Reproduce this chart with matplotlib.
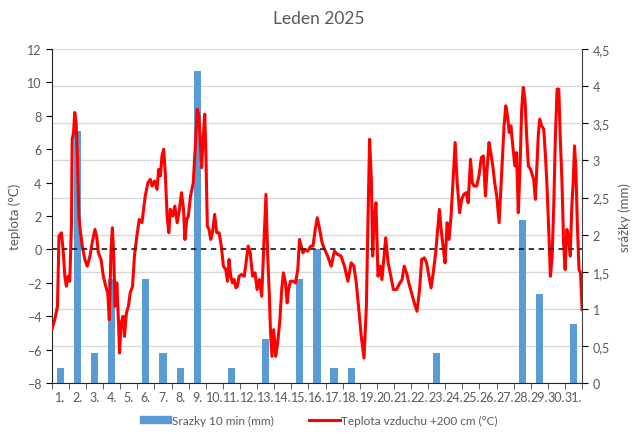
import matplotlib
matplotlib.use("Agg")
import matplotlib.pyplot as plt
from matplotlib.patches import Patch
from matplotlib.lines import Line2D

plt.rcParams['font.family'] = ['Lato', 'DejaVu Sans']

# daily precipitation (mm), days 1..31
days = list(range(1, 32))
rain = [0.2, 3.4, 0.4, 1.4, 0.0, 1.4, 0.4, 0.2, 4.2, 0.0,
        0.2, 0.0, 0.6, 0.0, 1.4, 1.8, 0.2, 0.2, 0.0, 0.0,
        0.0, 0.0, 0.4, 0.0, 0.0, 0.0, 0.0, 2.2, 1.2, 0.0, 0.8]

# air temperature 200 cm, time in days since 1 Jan 00:00
temp_t = [0.00, 0.17, 0.33, 0.42, 0.56, 0.66, 0.76, 0.85, 0.95, 1.05,
          1.15, 1.19, 1.27, 1.34, 1.42, 1.50, 1.58, 1.68, 1.78, 1.93,
          2.07, 2.23, 2.36, 2.52, 2.62, 2.72, 2.88, 3.01, 3.15, 3.27,
          3.36, 3.46, 3.54, 3.62, 3.70, 3.80, 3.90, 3.96, 4.05, 4.17,
          4.25, 4.36, 4.48, 4.58, 4.72, 4.83, 4.97, 5.11, 5.27, 5.46,
          5.62, 5.76, 5.86, 6.01, 6.15, 6.25, 6.35, 6.44, 6.54, 6.64,
          6.74, 6.84, 6.93, 7.07, 7.19, 7.33, 7.46, 7.58, 7.70, 7.78,
          7.89, 7.98, 8.11, 8.27, 8.40, 8.50, 8.60, 8.70, 8.76, 8.84,
          8.94, 9.01, 9.09, 9.19, 9.29, 9.39, 9.52, 9.64, 9.78, 9.91,
          10.03, 10.17, 10.27, 10.36, 10.46, 10.56, 10.66, 10.76, 10.85, 10.95,
          11.09, 11.25, 11.35, 11.48, 11.60, 11.74, 11.88, 12.00, 12.13, 12.27,
          12.37, 12.42, 12.52, 12.62, 12.72, 12.78, 12.87, 12.97, 13.09, 13.20,
          13.32, 13.44, 13.54, 13.66, 13.76, 13.84, 13.95, 14.09, 14.25, 14.38,
          14.48, 14.58, 14.68, 14.82, 14.97, 15.13, 15.27, 15.40, 15.52, 15.66,
          15.80, 15.95, 16.13, 16.33, 16.52, 16.72, 16.91, 17.11, 17.31, 17.50,
          17.66, 17.80, 17.93, 18.09, 18.25, 18.39, 18.48, 18.58, 18.68, 18.76,
          18.84, 18.95, 19.07, 19.19, 19.30, 19.42, 19.52, 19.66, 19.82, 19.97,
          20.15, 20.35, 20.48, 20.60, 20.74, 20.87, 21.03, 21.19, 21.35, 21.50,
          21.62, 21.78, 21.91, 22.05, 22.17, 22.30, 22.44, 22.56, 22.66, 22.76,
          22.87, 22.99, 23.11, 23.22, 23.34, 23.46, 23.58, 23.70, 23.84, 23.96,
          24.09, 24.23, 24.34, 24.48, 24.58, 24.68, 24.84, 24.97, 25.11, 25.23,
          25.35, 25.46, 25.56, 25.66, 25.78, 25.89, 26.01, 26.15, 26.25, 26.35,
          26.44, 26.54, 26.64, 26.74, 26.84, 26.95, 27.07, 27.17, 27.27, 27.37,
          27.47, 27.56, 27.66, 27.76, 27.86, 27.99, 28.17, 28.27, 28.35, 28.44,
          28.52, 28.64, 28.76, 28.86, 28.95, 29.05, 29.15, 29.25, 29.35, 29.44,
          29.54, 29.64, 29.72, 29.82, 29.92, 30.01, 30.11, 30.21, 30.31, 30.40,
          30.48, 30.56, 30.64, 30.72, 30.82, 30.91, 31.00]
temp = [-4.8, -4.2, -3.4, 0.8, 1.0, 0.0, -1.6, -2.2, -1.6, -1.9,
        1.6, 6.6, 7.0, 8.2, 7.6, 5.4, 2.0, 1.0, 0.2, -0.6,
        -1.0, -0.4, 0.4, 1.2, 0.8, -0.2, -0.6, -1.6, -2.2, -2.6,
        -4.2, 0.0, 1.3, -0.4, -3.4, -2.0, -4.4, -6.2, -4.4, -4.0,
        -5.2, -3.8, -3.4, -2.6, -2.2, -0.4, 0.8, 1.8, 1.6, 3.2,
        4.0, 4.2, 3.8, 4.1, 3.6, 4.8, 4.4, 5.6, 6.0, 4.4,
        2.0, 1.0, 2.4, 2.0, 2.6, 1.6, 2.4, 3.4, 2.4, 0.6,
        1.8, 2.0, 3.2, 4.0, 6.4, 8.4, 8.0, 6.0, 4.9, 6.6,
        8.1, 5.6, 1.4, 1.2, 0.6, 1.0, 2.1, 1.0, 1.0, 0.2,
        -1.0, -1.2, -1.9, -0.6, -1.6, -2.0, -1.8, -2.3, -2.2, -1.6,
        -1.5, -1.6, -0.8, 0.2, -0.2, -1.6, -1.4, -2.4, -1.8, -2.8,
        -0.4, 0.8, 3.3, -0.4, -2.8, -4.8, -6.4, -4.8, -6.4, -5.6,
        -4.4, -2.4, -1.4, -2.0, -3.2, -2.4, -1.9, -1.9, -2.0, -1.2,
        0.6, 0.2, -0.2, 0.0, -0.1, 0.2, 0.2, 1.2, 1.9, 1.2,
        0.4, 0.0, -0.4, -1.0, -0.1, -0.3, -0.4, -1.0, -1.9, -0.8,
        -1.0, -2.0, -3.4, -5.2, -6.5, -3.4, 1.6, 6.6, 4.2, -0.4,
        1.8, 2.8, -1.6, -1.0, -1.8, -0.4, 0.7, -0.8, -1.6, -2.4,
        -2.4, -2.0, -1.8, -1.0, -1.4, -2.0, -2.6, -3.2, -3.7, -2.4,
        -0.6, -0.5, -0.8, -1.6, -2.3, -1.4, -0.2, 1.2, 2.4, 1.2,
        0.2, -0.8, 1.6, 0.6, 2.0, 4.2, 6.4, 4.0, 2.2, 3.0,
        3.3, 3.4, 2.8, 5.4, 4.0, 3.8, 3.8, 4.4, 5.5, 5.6,
        3.2, 5.0, 6.4, 5.8, 5.0, 4.0, 3.2, 1.6, 3.6, 5.6,
        7.4, 8.6, 8.0, 7.0, 7.4, 6.2, 5.0, 5.8, 2.2, 4.8,
        8.4, 9.7, 9.0, 6.8, 5.0, 4.8, 4.2, 3.0, 4.8, 6.8,
        7.8, 7.4, 7.2, 5.6, 3.8, 1.2, -1.6, -0.4, 2.8, 6.8,
        9.6, 9.6, 6.8, 4.2, 0.4, -1.2, 1.2, 0.8, -0.4, 2.6,
        4.0, 6.2, 4.8, 1.6, -1.2, -1.4, -3.6]

day_labels = [f"{d}." for d in days]
temp_ticks = list(range(-8, 13, 2))
rain_ticks = [i * 0.5 for i in range(10)]
rain_labels = [f"{v:g}".replace(".", ",") for v in rain_ticks]

gray = "#595959"

fig = plt.figure(figsize=(6.32, 4.35), dpi=100)
ax = fig.add_axes([0.082, 0.117, 0.839, 0.768])
ax2 = ax.twinx()
# temperature axis on top, precipitation bars underneath
ax.set_zorder(ax2.get_zorder() + 1)
ax.patch.set_visible(False)

ax2.bar(days, rain, width=0.42, color="#5B9BD5", zorder=2)
ax2.set_ylim(0, 4.5)
ax2.set_yticks(rain_ticks)
ax2.set_yticklabels(rain_labels)
ax2.grid(axis="y", color="#D9D9D9", linewidth=1, zorder=0)
ax2.set_axisbelow(True)
ax2.set_ylabel("srážky (mm)", color=gray, fontsize=9.5, labelpad=6)

tx = [t + 0.5 for t in temp_t]
ax.plot(tx, temp, color="#FF0000", linewidth=2.2, zorder=3)
ax.axhline(0, color="#262626", linestyle=(0, (3, 2.5)), linewidth=1.3, zorder=4)
ax.set_ylim(-8, 12)
ax.set_yticks(temp_ticks)
ax.set_xlim(0.5, 31.5)
ax.set_xticks(days)
ax.set_xticklabels(day_labels)
ax.set_xticks([d + 0.5 for d in range(0, 32)], minor=True)
ax.tick_params(axis="x", which="major", length=0, pad=6)
ax.tick_params(axis="x", which="minor", length=4, color="#404040")
ax.set_ylabel("teplota (°C)", color=gray, fontsize=9.5, labelpad=4)

for a in (ax, ax2):
    a.tick_params(labelsize=9, labelcolor=gray)
    a.tick_params(axis="y", length=4)
    a.spines["top"].set_visible(False)
ax.spines["left"].set_color("#262626")
ax.spines["bottom"].set_color("#262626")
ax2.spines["right"].set_color("#404040")
ax2.spines["left"].set_visible(False)
ax2.spines["bottom"].set_visible(False)
ax.spines["right"].set_visible(False)

fig.suptitle("Leden 2025", x=0.505, y=0.975, fontsize=12.5, color=gray)

handles = [Patch(color="#5B9BD5"), Line2D([], [], color="#FF0000", linewidth=2.2)]
fig.legend(handles, ["Srazky 10 min (mm)", "Teplota vzduchu +200 cm (°C)"],
           loc="lower center", bbox_to_anchor=(0.505, -0.005), ncol=2,
           frameon=False, fontsize=8.5, labelcolor=gray, columnspacing=3,
           handlelength=2.6, handleheight=0.5, handletextpad=0.1)

fig.savefig("out.png", dpi=100)
